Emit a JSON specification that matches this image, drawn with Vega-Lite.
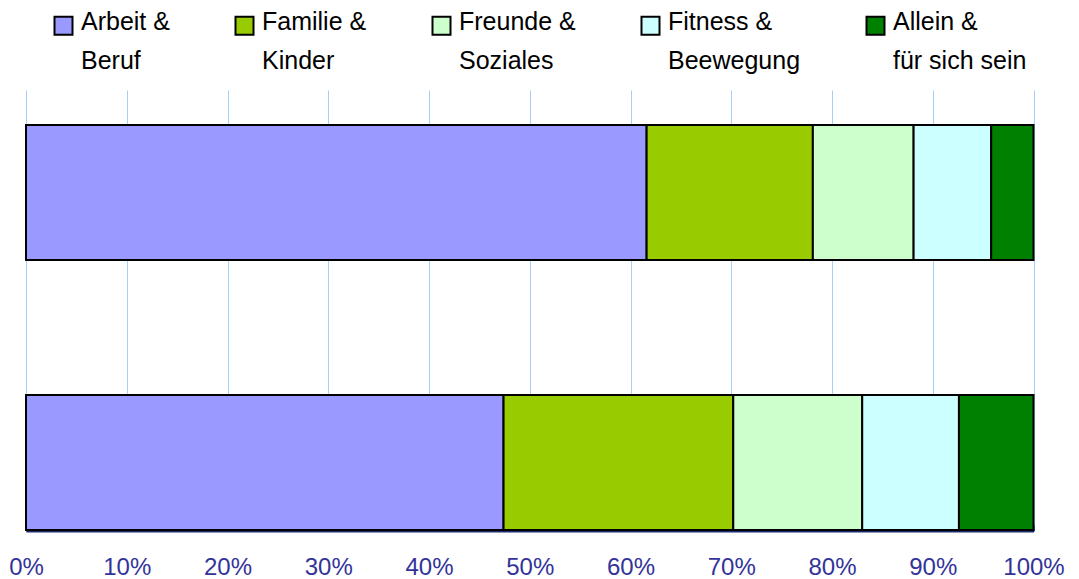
{
  "$schema": "https://vega.github.io/schema/vega-lite/v6.json",
  "autosize": {"type": "none"},
  "padding": {"left": 26, "top": 90, "right": 45, "bottom": 48},
  "width": 1007.5,
  "height": 441,
  "background": "white",
  "config": {
    "view": {"stroke": null},
    "font": "Liberation Sans"
  },
  "data": {
    "values": [
      {"zeile": "Zeile 1", "bereich": "Arbeit & Beruf", "nr": 1, "anteil": 61.6},
      {"zeile": "Zeile 1", "bereich": "Familie & Kinder", "nr": 2, "anteil": 16.5},
      {"zeile": "Zeile 1", "bereich": "Freunde & Soziales", "nr": 3, "anteil": 10.0},
      {"zeile": "Zeile 1", "bereich": "Fitness & Beewegung", "nr": 4, "anteil": 7.7},
      {"zeile": "Zeile 1", "bereich": "Allein & für sich sein", "nr": 5, "anteil": 4.2},
      {"zeile": "Zeile 2", "bereich": "Arbeit & Beruf", "nr": 1, "anteil": 47.4},
      {"zeile": "Zeile 2", "bereich": "Familie & Kinder", "nr": 2, "anteil": 22.8},
      {"zeile": "Zeile 2", "bereich": "Freunde & Soziales", "nr": 3, "anteil": 12.8},
      {"zeile": "Zeile 2", "bereich": "Fitness & Beewegung", "nr": 4, "anteil": 9.6},
      {"zeile": "Zeile 2", "bereich": "Allein & für sich sein", "nr": 5, "anteil": 7.4}
    ]
  },
  "mark": {"type": "bar", "stroke": "black", "strokeWidth": 2},
  "encoding": {
    "y": {
      "field": "zeile",
      "type": "nominal",
      "axis": null,
      "scale": {"paddingInner": 0.5, "paddingOuter": 0.0667, "align": 0.972}
    },
    "x": {
      "field": "anteil",
      "type": "quantitative",
      "stack": "zero",
      "scale": {"domain": [0, 100], "nice": false},
      "axis": {
        "title": null,
        "values": [0, 10, 20, 30, 40, 50, 60, 70, 80, 90, 100],
        "labelExpr": "datum.value + '%'",
        "labelFont": "Liberation Sans",
        "labelFontSize": 24,
        "labelColor": "#333399",
        "labelBaseline": "alphabetic",
        "labelPadding": 49,
        "labelOverlap": false,
        "labelFlush": false,
        "grid": true,
        "gridColor": "#a8d0f5",
        "gridWidth": 1,
        "domainColor": "#1c2a6e",
        "domainWidth": 2,
        "tickColor": "#4a70dc",
        "tickWidth": 1,
        "tickSize": -6
      }
    },
    "order": {"field": "nr", "type": "quantitative"},
    "fill": {
      "field": "bereich",
      "type": "nominal",
      "scale": {
        "domain": ["Arbeit & Beruf", "Familie & Kinder", "Freunde & Soziales", "Fitness & Beewegung", "Allein & für sich sein"],
        "range": ["#9999ff", "#99cc00", "#ccffcc", "#ccffff", "#008000"]
      },
      "legend": {
        "title": null,
        "orient": "none",
        "legendX": 25,
        "legendY": -77,
        "direction": "horizontal",
        "columns": 5,
        "columnPadding": 61,
        "padding": 0,
        "symbolType": "square",
        "symbolSize": 324,
        "symbolStrokeColor": "black",
        "symbolStrokeWidth": 2,
        "symbolOpacity": 1,
        "labelOffset": 5,
        "labelFont": "Liberation Sans",
        "labelFontSize": 25,
        "labelColor": "black",
        "labelBaseline": "alphabetic",
        "labelLimit": 300,
        "labelExpr": "split(replace(datum.label, '& ', '&|'), '|')",
        "encode": {
          "labels": {"update": {"lineHeight": {"value": 39}, "dy": {"value": 4}}}
        }
      }
    }
  }
}
